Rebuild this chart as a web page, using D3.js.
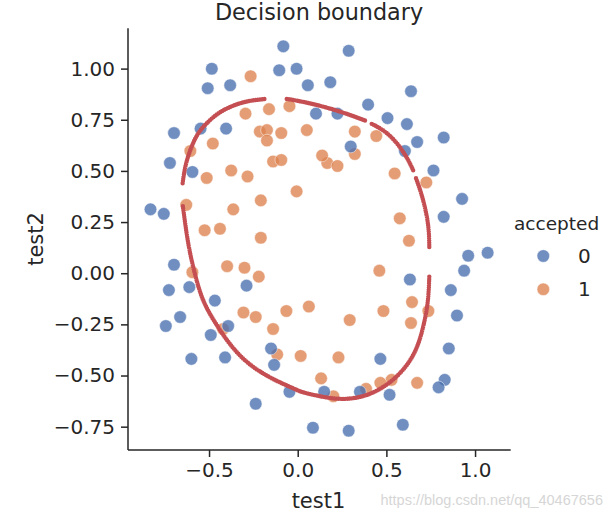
<!DOCTYPE html>
<html>
<head>
<meta charset="utf-8">
<script src="https://cdn.jsdelivr.net/npm/d3@7"></script>
<style>
  html, body { margin: 0; padding: 0; background: #fff; }
  svg { display: block; }
  text { font-family: "DejaVu Sans", sans-serif; fill: #262626; }
</style>
</head>
<body>
<svg id="chart" width="613" height="519"></svg>
<script>
// ---- data (ex2data2 microchip tests) ----
const test1 = [0.051267,-0.092742,-0.21371,-0.375,-0.51325,-0.52477,-0.39804,-0.30588,0.016705,0.13191,0.38537,0.52938,0.63882,0.73675,0.54666,0.322,0.16647,-0.046659,-0.17339,-0.47869,-0.60541,-0.62846,-0.59389,-0.42108,-0.11578,0.20104,0.46601,0.67339,-0.13882,-0.29435,-0.26555,-0.16187,-0.17339,-0.28283,-0.36348,-0.30012,-0.23675,-0.06394,0.062788,0.22984,0.2932,0.48329,0.64459,0.46025,0.6273,0.57546,0.72523,0.22408,0.44297,0.322,0.13767,-0.0063364,-0.092742,-0.20795,-0.20795,-0.43836,-0.21947,-0.13882,0.18376,0.22408,0.29896,0.50634,0.61578,0.60426,0.76555,0.92684,0.82316,0.96141,0.93836,0.86348,0.89804,0.85196,0.82892,0.79435,0.59274,0.51786,0.46601,0.35081,0.28744,0.085829,0.14919,-0.13306,-0.40956,-0.39228,-0.74366,-0.69758,-0.75518,-0.69758,-0.4038,-0.38076,-0.50749,-0.54781,0.10311,0.057028,-0.10438,-0.081221,0.28744,0.39689,0.63882,0.82316,0.67339,1.0709,-0.046659,-0.23675,-0.15035,-0.49021,-0.46717,-0.28859,-0.61118,-0.66302,-0.59965,-0.72638,-0.83007,-0.72062,-0.59389,-0.48445,-0.0063364,0.63265];
const test2 = [0.69956,0.68494,0.69225,0.50219,0.46564,0.2098,0.034357,-0.19225,-0.40424,-0.51389,-0.56506,-0.5212,-0.24342,-0.18494,0.48757,0.5826,0.53874,0.81652,0.69956,0.63377,0.59722,0.33406,0.005117,-0.27266,-0.39693,-0.60161,-0.53582,-0.53582,0.54605,0.77997,0.96272,0.8019,0.64839,0.47295,0.31213,0.027047,-0.21418,-0.18494,-0.16301,-0.41155,-0.2288,-0.18494,-0.14108,0.012427,0.15863,0.26827,0.44371,0.52412,0.67032,0.69225,0.57529,0.39985,0.55336,0.35599,0.17325,0.21711,-0.016813,-0.27266,0.93348,0.77997,0.61915,0.75804,0.7288,0.59722,0.50219,0.3633,0.27558,0.085526,0.012427,-0.082602,-0.20687,-0.36769,-0.5212,-0.55775,-0.7405,-0.5943,-0.41886,-0.57968,-0.76974,-0.75512,-0.57968,-0.4481,-0.41155,-0.25804,-0.25804,0.041667,0.2902,0.68494,0.70687,0.91886,0.90424,0.70687,0.77997,0.91886,0.99196,1.1089,1.087,0.82383,0.88962,0.66301,0.64108,0.10015,-0.57968,-0.63816,-0.36769,-0.3019,-0.13377,-0.060673,-0.067982,-0.21418,-0.41886,-0.082602,0.31213,0.53874,0.49488,0.99927,0.99927,-0.030612];
const accepted = [1,1,1,1,1,1,1,1,1,1,1,1,1,1,1,1,1,1,1,1,1,1,1,1,1,1,1,1,1,1,1,1,1,1,1,1,1,1,1,1,1,1,1,1,1,1,1,1,1,1,1,1,1,1,1,1,1,1,0,0,0,0,0,0,0,0,0,0,0,0,0,0,0,0,0,0,0,0,0,0,0,0,0,0,0,0,0,0,0,0,0,0,0,0,0,0,0,0,0,0,0,0,0,0,0,0,0,0,0,0,0,0,0,0,0,0,0,0];
const classes = [0, 1];

// decision boundary pieces
const boundaryA = [[-0.649,0.440],[-0.636,0.521],[-0.607,0.603],[-0.570,0.676],[-0.532,0.717],[-0.476,0.765],[-0.420,0.798],[-0.344,0.827],[-0.269,0.844],[-0.184,0.852]];
const boundaryB = [[-0.062,0.852],[-0.043,0.850],[0.069,0.831],[0.182,0.806],[0.295,0.774],[0.380,0.746]];
const boundaryC = [[0.417,0.730],[0.502,0.692],[0.577,0.619],[0.624,0.554],[0.652,0.501]];
const boundaryD = [[0.667,0.464],[0.699,0.388],[0.728,0.285],[0.741,0.203],[0.742,0.122]];
const boundaryE = [[0.742,-0.017],[0.737,-0.130],[0.718,-0.228],[0.680,-0.359],[0.615,-0.457],[0.521,-0.538],[0.408,-0.595],[0.295,-0.616],[0.201,-0.614],[0.088,-0.595],[0.013,-0.579],[-0.025,-0.562],[-0.156,-0.513],[-0.288,-0.440],[-0.391,-0.342],[-0.476,-0.228],[-0.541,-0.130],[-0.589,0.024],[-0.617,0.138],[-0.636,0.252],[-0.649,0.337]];

const xTicks = [-0.5, 0.0, 0.5, 1.0];
const yTicks = [-0.75, -0.5, -0.25, 0.0, 0.25, 0.5, 0.75, 1.0];
const xDomain = [-0.957, 1.201];
const yDomain = [-0.864, 1.197];

// ---- drawing ----
const svg = d3.select("#chart");
const mLeft = 128, mRight = 510.7, mTop = 28.3, mBottom = 450;
const x = d3.scaleLinear().domain(xDomain).range([mLeft, mRight]);
const y = d3.scaleLinear().domain(yDomain).range([mBottom, mTop]);
const colors = d3.scaleOrdinal().domain(classes).range(["#4c72b0", "#dd8452"]);
const axisColor = "#262626";

// points
const pts = test1.map((v, i) => ({x: v, y: test2[i], c: accepted[i]}));
svg.append("g").selectAll("circle").data(pts).join("circle")
  .attr("cx", d => x(d.x)).attr("cy", d => y(d.y)).attr("r", 6.3)
  .attr("fill", d => colors(d.c)).attr("fill-opacity", 0.8)
  .attr("stroke", "#fff").attr("stroke-opacity", 0.6).attr("stroke-width", 0.8);

// boundary
const line = d3.line().x(d => x(d[0])).y(d => y(d[1])).curve(d3.curveBasis);
svg.append("g").selectAll("path").data([boundaryA, boundaryB, boundaryC, boundaryD, boundaryE]).join("path")
  .attr("d", line).attr("fill", "none").attr("stroke", "#c44e52")
  .attr("stroke-width", 4.4).attr("stroke-linecap", "round")
  .attr("stroke-dasharray", "0 2.2");

// axes
const xAxis = svg.append("g").attr("transform", `translate(0,${mBottom})`)
  .call(d3.axisBottom(x).tickValues(xTicks).tickFormat(d3.format(".1f")).tickSize(7).tickPadding(6));
const yAxis = svg.append("g").attr("transform", `translate(${mLeft},0)`)
  .call(d3.axisLeft(y).tickValues(yTicks).tickFormat(d3.format(".2f")).tickSize(7).tickPadding(6));
[xAxis, yAxis].forEach(g => {
  g.select(".domain").attr("stroke", axisColor).attr("stroke-width", 1.5);
  g.selectAll(".tick line").attr("stroke", axisColor).attr("stroke-width", 1.5);
  g.selectAll(".tick text").attr("fill", axisColor).style("font-size", "20px")
    .style("font-family", "DejaVu Sans");
});
xAxis.select(".domain").attr("d", `M${mLeft},0H${mRight}`);
yAxis.select(".domain").attr("d", `M0,${mTop}V${mBottom}`);

// title and labels
svg.append("text").attr("x", 319).attr("y", 20).attr("text-anchor", "middle")
  .style("font-size", "22.3px").text("Decision boundary");
svg.append("text").attr("x", 318.5).attr("y", 507.5).attr("text-anchor", "middle")
  .style("font-size", "21px").text("test1");
svg.append("text").attr("transform", "translate(43,239) rotate(-90)").attr("text-anchor", "middle")
  .style("font-size", "21px").text("test2");

// legend
const lg = svg.append("g");
lg.append("text").attr("x", 514).attr("y", 230).style("font-size", "18.5px").text("accepted");
classes.forEach((c, i) => {
  const cy = 256 + i * 33.3;
  lg.append("circle").attr("cx", 543.3).attr("cy", cy).attr("r", 6.3)
    .attr("fill", colors(c)).attr("fill-opacity", 0.8)
    .attr("stroke", "#fff").attr("stroke-opacity", 0.6).attr("stroke-width", 0.8);
  lg.append("text").attr("x", 578).attr("y", cy + 6.5).style("font-size", "20px").text(String(c));
});

// watermark
svg.append("text").attr("x", 603).attr("y", 505).attr("text-anchor", "end")
  .style("font-family", "'Liberation Sans', Arial, sans-serif").style("font-size", "14.5px")
  .style("fill", "#d6d6d6").text("https://blog.csdn.net/qq_40467656");
</script>
</body>
</html>
